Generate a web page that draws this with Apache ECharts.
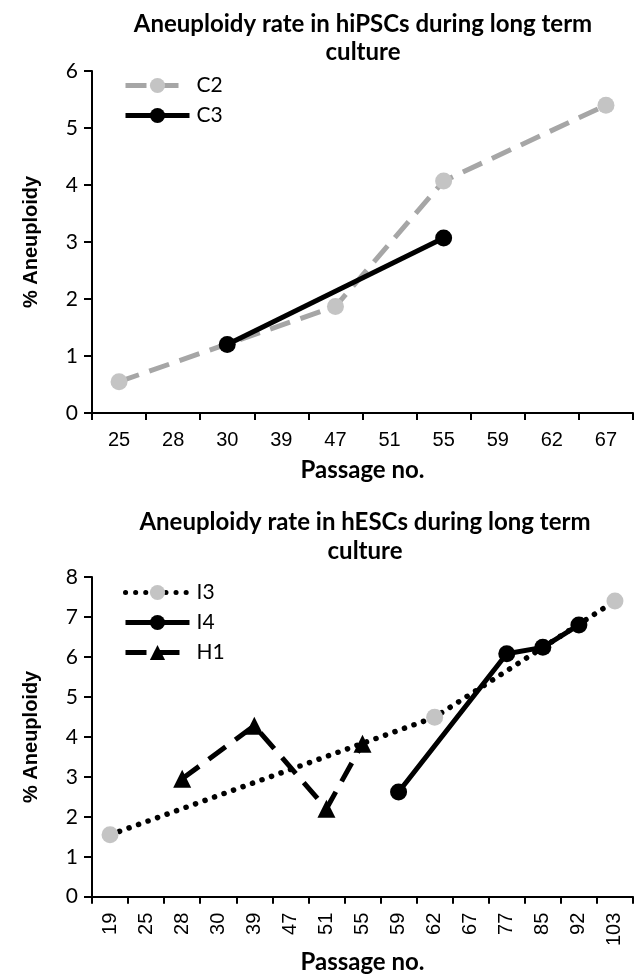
<!DOCTYPE html>
<html>
<head>
<meta charset="utf-8">
<script src="https://cdn.jsdelivr.net/npm/echarts@6/dist/echarts.min.js"></script>
<style>
html,body{margin:0;padding:0;background:#fff;}
#c{width:644px;height:975px;}
</style>
</head>
<body>
<div id="c"></div>
<script>
// ---- Top chart (hiPSCs) ----
var topCategories = ['25','28','30','39','47','51','55','59','62','67'];
var c2Values = [0.55, null, null, null, 1.87, null, 4.07, null, null, 5.4];
var c3Values = [null, null, 1.2, null, null, null, 3.07, null, null, null];
var topYTicks = {min: 0, max: 6, interval: 1};

// ---- Bottom chart (hESCs) ----
var bottomCategories = ['19','25','28','30','39','47','51','55','59','62','67','77','85','92','103'];
var i3Values = [1.55, null, null, null, null, null, null, null, null, 4.49, null, null, null, null, 7.4];
var i4Values = [null, null, null, null, null, null, null, null, 2.62, null, null, 6.08, 6.24, 6.8, null];
var h1Values = [null, null, 2.95, null, 4.28, null, 2.2, 3.83, null, null, null, null, null, null, null];
var bottomYTicks = {min: 0, max: 8, interval: 1};

var titleTop = 'Aneuploidy rate in hiPSCs during long term\nculture';
var titleBottom = 'Aneuploidy rate in hESCs during long term\nculture';
var xName = 'Passage no.';
var yName = '% Aneuploidy';

var FONT_T = 'Lato';
var FONT_A = 'Liberation Sans';

var chart = echarts.init(document.getElementById('c'), null, {renderer: 'canvas'});

function xAxisCfg(gridIndex, cats, rotate, nameGap, margin) {
  return {
    type: 'category', gridIndex: gridIndex, data: cats, boundaryGap: true,
    axisLine: {lineStyle: {color: '#000', width: 2}},
    axisTick: {show: true, inside: false, length: 7, lineStyle: {color: '#000', width: 2}, alignWithLabel: false},
    axisLabel: {color: '#000', fontFamily: FONT_A, fontSize: 20, margin: margin, rotate: rotate, interval: 0},
    name: xName, nameLocation: 'middle', nameGap: nameGap,
    nameTextStyle: {fontFamily: FONT_T, fontWeight: 'bold', fontSize: 24, color: '#000'},
    splitLine: {show: false}
  };
}
function yAxisCfg(gridIndex, t) {
  return {
    type: 'value', gridIndex: gridIndex, min: t.min, max: t.max, interval: t.interval,
    axisLine: {show: true, lineStyle: {color: '#000', width: 2}},
    axisTick: {show: true, inside: false, length: 8, lineStyle: {color: '#000', width: 2}},
    axisLabel: {color: '#000', fontFamily: FONT_T, fontSize: 21, margin: 14},
    splitLine: {show: false},
    name: yName, nameLocation: 'middle', nameGap: 51, nameRotate: 90,
    nameTextStyle: {fontFamily: FONT_A, fontWeight: 'bold', fontSize: 20, color: '#000'}
  };
}

var legendCommon = {
  orient: 'vertical', left: 118, itemWidth: 64, itemHeight: 19, itemGap: 9,
  lineStyle: {width: 5},
  textStyle: {fontFamily: FONT_T, fontSize: 21, lineHeight: 19, color: '#000', padding: [0, 0, 0, 2]}
};

var option = {
  backgroundColor: '#fff',
  animation: false,
  title: [
    {text: titleTop, left: 363, top: 10, padding: 0, textAlign: 'center',
     textStyle: {fontFamily: FONT_T, fontWeight: 'bold', fontSize: 24, lineHeight: 28, color: '#000'}},
    {text: titleBottom, left: 365, top: 508, padding: 0, textAlign: 'center',
     textStyle: {fontFamily: FONT_T, fontWeight: 'bold', fontSize: 24, lineHeight: 29, color: '#000'}}
  ],
  legend: [
    Object.assign({data: ['C2', 'C3'], top: 70}, legendCommon),
    Object.assign({data: ['I3', 'I4', 'H1'], top: 577}, legendCommon)
  ],
  grid: [
    {left: 92, top: 71, width: 541, height: 342, containLabel: false},
    {left: 92, top: 577, width: 541, height: 327, containLabel: false}
  ],
  xAxis: [
    xAxisCfg(0, topCategories, 0, 45, 17),
    xAxisCfg(1, bottomCategories, 90, 49, 16)
  ],
  yAxis: [
    yAxisCfg(0, topYTicks),
    yAxisCfg(1, bottomYTicks)
  ],
  series: [
    {name: 'C2', type: 'line', xAxisIndex: 0, yAxisIndex: 0, data: c2Values, connectNulls: true,
     symbol: 'circle', symbolSize: 17,
     lineStyle: {color: '#a6a6a6', width: 5, type: [21, 11]},
     itemStyle: {color: '#c4c4c4', borderWidth: 0}},
    {name: 'C3', type: 'line', xAxisIndex: 0, yAxisIndex: 0, data: c3Values, connectNulls: true,
     symbol: 'circle', symbolSize: 17,
     lineStyle: {color: '#000', width: 5, type: 'solid'},
     itemStyle: {color: '#000', borderWidth: 0}},
    {name: 'I3', type: 'line', xAxisIndex: 1, yAxisIndex: 1, data: i3Values, connectNulls: true,
     symbol: 'circle', symbolSize: 17,
     lineStyle: {color: '#000', width: 5.5, type: [0.1, 10], cap: 'round'},
     itemStyle: {color: '#c4c4c4', borderWidth: 0}},
    {name: 'I4', type: 'line', xAxisIndex: 1, yAxisIndex: 1, data: i4Values, connectNulls: true,
     symbol: 'circle', symbolSize: 17,
     lineStyle: {color: '#000', width: 5, type: 'solid'},
     itemStyle: {color: '#000', borderWidth: 0}},
    {name: 'H1', type: 'line', xAxisIndex: 1, yAxisIndex: 1, data: h1Values, connectNulls: true,
     symbol: 'triangle', symbolSize: 18,
     lineStyle: {color: '#000', width: 5, type: [21, 12]},
     itemStyle: {color: '#000', borderWidth: 0}}
  ]
};
chart.setOption(option);
</script>
</body>
</html>
